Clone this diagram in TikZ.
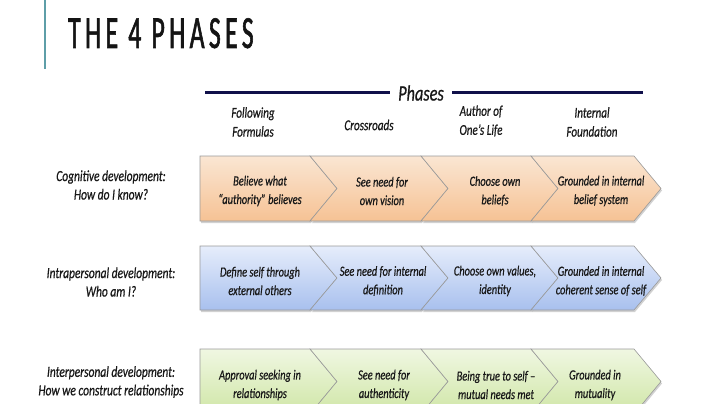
\documentclass[tikz,border=0pt]{standalone}
\usepackage{fontspec}
\setmainfont{Carlito}
\newfontfamily\cfont{Carlito}[FakeStretch=0.74, FakeBold=0.6]
\newfontfamily\titlefont{Carlito}[FakeStretch=0.56, LetterSpace=9.5, FakeBold=1.2]
\definecolor{orangeA}{HTML}{FAE6D3}
\definecolor{orangeB}{HTML}{F6C294}
\definecolor{blueA}{HTML}{E6EDFB}
\definecolor{blueB}{HTML}{A8C0EE}
\definecolor{greenA}{HTML}{F0F7E2}
\definecolor{greenB}{HTML}{CFE6A6}
\definecolor{navy}{HTML}{10104A}
\definecolor{tealbar}{HTML}{5E9EA8}
\tikzset{
  chevtext/.style={font=\cfont\itshape\fontsize{14}{18.5}\selectfont, align=center, inner sep=0pt, text=black!90},
  rowlabel/.style={font=\cfont\itshape\fontsize{15.5}{18.5}\selectfont, align=center, inner sep=0pt, text=black!90},
  headlabel/.style={font=\cfont\itshape\fontsize{15}{19}\selectfont, align=center, inner sep=0pt, text=black!90},
  chevedge/.style={draw=black!40, line width=0.6pt},
  chevshadow/.style={fill=black, opacity=0.18},
}
% #1 left corner x, #2 left notch depth, #3 right corner x, #4 top, #5 bottom
\newcommand{\chevpath}[5]{(#1,#4) -- (#3,#4) -- ({#3+27},{(#4+#5)/2}) -- (#3,#5) -- (#1,#5) -- ({#1+#2},{(#4+#5)/2}) -- cycle}
\begin{document}
\begin{tikzpicture}[x=1pt,y=-1pt]
\useasboundingbox (0,0) rectangle (720,404);
\fill[white] (0,0) rectangle (720,404);
% title
\draw[tealbar, line width=2pt] (45,0) coordinate (barTop) -- (45,69) coordinate (barBot);
\node[anchor=base west, inner sep=0pt, font=\titlefont\fontsize{46}{46}\selectfont, text=black!92] (title) at (68,48) {THE 4 PHASES};
% phases header
\node[font=\cfont\itshape\fontsize{22}{22}\selectfont, inner sep=0pt, text=black!90] (phases) at (421,93) {Phases};
\coordinate (lineL) at (205,92);
\coordinate (gapL) at (390,92);
\coordinate (gapR) at (452,92);
\coordinate (lineR) at (643,92);
\draw[navy, line width=3pt] (lineL) -- (gapL);
\draw[navy, line width=3pt] (gapR) -- (lineR);
\node[headlabel] (h1) at (253,122) {Following\\Formulas};
\node[headlabel] (h2) at (369,125) {Crossroads};
\node[headlabel] (h3) at (481,121) {Author of\\One’s Life};
\node[headlabel] (h4) at (592,122) {Internal\\Foundation};
% rows of chevrons
\foreach \T/\B/\ca/\cb in {156/221/orangeA/orangeB, 246/310/blueA/blueB, 349/414/greenA/greenB}{
  \fill[chevshadow] \chevpath{201}{0}{311}{\T+2}{\B+2};
  \fill[chevshadow] \chevpath{312}{27}{422}{\T+2}{\B+2};
  \fill[chevshadow] \chevpath{423}{27}{532}{\T+2}{\B+2};
  \fill[chevshadow] \chevpath{532}{27}{635}{\T+2}{\B+2};
  \shade[top color=\ca, bottom color=\cb, chevedge] \chevpath{200}{0}{310}{\T}{\B};
  \shade[top color=\ca, bottom color=\cb, chevedge] \chevpath{310}{27}{421}{\T}{\B};
  \shade[top color=\ca, bottom color=\cb, chevedge] \chevpath{421}{27}{531}{\T}{\B};
  \shade[top color=\ca, bottom color=\cb, chevedge] \chevpath{531}{27}{634}{\T}{\B};
}
% row 1
\node[rowlabel] (r1) at (111,185) {Cognitive development:\\How do I know?};
\node[chevtext] (c11) at (260,191) {Believe what\\“authority” believes};
\node[chevtext] (c12) at (382,191) {See need for\\own vision};
\node[chevtext] (c13) at (495,191) {Choose own\\beliefs};
\node[chevtext] (c14) at (601,191) {Grounded in internal\\belief system};
% row 2
\node[rowlabel] (r2) at (111,282) {Intrapersonal development:\\Who am I?};
\node[chevtext] (c21) at (260,281) {Define self through\\external others};
\node[chevtext] (c22) at (383,281) {See need for internal\\definition};
\node[chevtext] (c23) at (495,281) {Choose own values,\\identity};
\node[chevtext] (c24) at (601,281) {Grounded in internal\\coherent sense of self};
% row 3
\node[rowlabel] (r3) at (111,382) {Interpersonal development:\\How we construct relationships};
\node[chevtext] (c31) at (260,385) {Approval seeking in\\relationships};
\node[chevtext] (c32) at (384,385) {See need for\\authenticity};
\node[chevtext] (c33) at (496,385) {Being true to self –\\mutual needs met};
\node[chevtext] (c34) at (595,385) {Grounded in\\mutuality};
\end{tikzpicture}
\end{document}
